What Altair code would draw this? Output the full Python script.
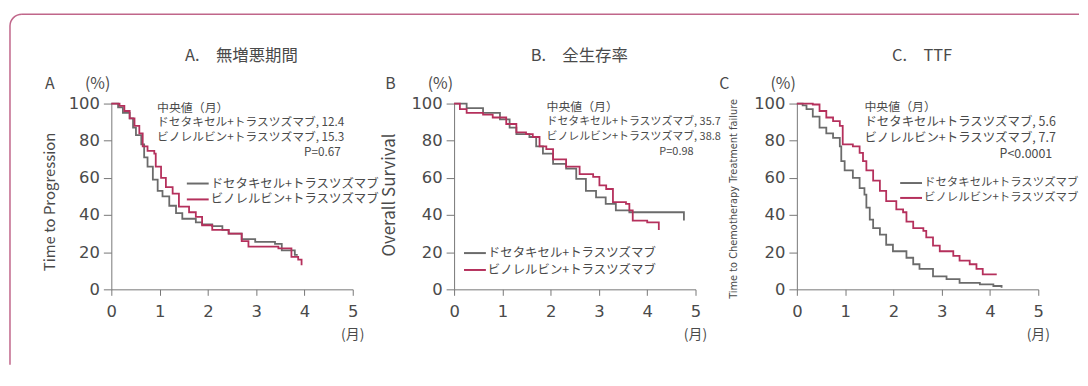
import altair as alt
import pandas as pd

# ---------------- data ----------------
SERIES = ["ドセタキセル+トラスツズマブ", "ビノレルビン+トラスツズマブ"]
COLORS = ["#6b6b6b", "#b5305c"]

X_TICKS = [0, 1, 2, 3, 4, 5]
Y_TICKS = [0, 20, 40, 60, 80, 100]

# Panel A: Time to Progression
A_doc_t = [0, 0.14, 0.24, 0.38, 0.45, 0.51, 0.62, 0.68, 0.75, 0.86, 0.96, 1.06, 1.2, 1.34, 1.47, 1.75, 1.88, 2.09, 2.3, 2.43, 2.7, 2.98, 3.39, 3.53, 3.8, 3.86]
A_doc_s = [100, 98, 95, 92, 87, 83, 78, 71, 66, 59, 53, 50, 45, 41, 38, 36, 35, 34, 32, 30, 27, 25.5, 24.5, 21, 18.5, 18.5]
A_vin_t = [0, 0.17, 0.27, 0.38, 0.48, 0.58, 0.65, 0.75, 0.89, 0.92, 1.03, 1.13, 1.27, 1.4, 1.61, 1.75, 1.88, 2.09, 2.43, 2.7, 2.84, 3.39, 3.46, 3.73, 3.87, 3.94]
A_vin_s = [100, 98.7, 96, 92, 88, 84, 77, 74.5, 73, 66, 60, 55, 51.5, 44.5, 41.5, 39, 34.5, 32, 30, 26, 23, 23, 22, 17.5, 16, 13]

# Panel B: Overall Survival
B_doc_t = [0, 0.26, 0.6, 0.95, 1.15, 1.29, 1.56, 1.7, 1.84, 2.05, 2.32, 2.53, 2.73, 2.94, 3.14, 3.35, 3.63, 4.76, 4.76]
B_doc_s = [100, 97.5, 95, 91.5, 87, 83.5, 82, 77, 73, 67.5, 65, 59.5, 53, 49.5, 46, 42.5, 41.5, 41.5, 37]
B_vin_t = [0, 0.12, 0.26, 0.6, 0.8, 1.08, 1.29, 1.49, 1.63, 1.77, 1.91, 2.05, 2.32, 2.6, 2.88, 3.01, 3.15, 3.29, 3.56, 3.63, 3.7, 4.0, 4.24, 4.24]
B_vin_s = [100, 97, 95, 94, 92.5, 89, 84.5, 83.5, 82, 77, 75.5, 70, 66, 62, 60.5, 56, 54, 47, 46, 42.5, 37, 36, 36, 32]

# Panel C: Time to Chemotherapy Treatment failure
C_doc_t = [0, 0.12, 0.2, 0.33, 0.47, 0.61, 0.75, 0.89, 0.92, 0.99, 1.16, 1.3, 1.4, 1.44, 1.51, 1.58, 1.72, 1.85, 1.99, 2.27, 2.41, 2.54, 2.82, 3.1, 3.37, 3.79, 4.07, 4.24]
C_doc_s = [100, 99, 97, 93, 87, 84, 81.5, 77, 69, 64, 60, 54.5, 51, 44, 37.5, 33, 29.5, 24, 20.5, 17, 13.5, 11, 7, 5.5, 3.5, 2.7, 1.8, 0.9]
C_vin_t = [0, 0.33, 0.47, 0.61, 0.75, 0.89, 0.95, 1.16, 1.3, 1.37, 1.44, 1.58, 1.72, 1.85, 2.06, 2.2, 2.27, 2.41, 2.62, 2.68, 2.82, 2.96, 3.24, 3.37, 3.58, 3.72, 3.85, 4.14]
C_vin_s = [100, 99.5, 96, 92.5, 90.5, 88, 78, 77, 73.5, 69, 64, 58.5, 53, 47.5, 43, 41.5, 36.5, 33, 31.5, 28, 23.5, 20.5, 18, 15.5, 13.5, 11, 8, 8]

TITLES = ["A.　無増悪期間", "B.　全生存率", "C.　TTF"]
LETTERS = ["A", "B", "C"]
Y_TITLES = ["Time to Progression", "Overall Survival", "Time to Chemotherapy Treatment failure"]
MEDIAN_HEAD = "中央値（月）"
MEDIANS = [["12.4", "15.3"], ["35.7", "38.8"], ["5.6", "7.7"]]
P_VALUES = ["P=0.67", "P=0.98", "P<0.0001"]
PCT = "(%)"
UNIT = "(月)"

# ---------------- styling ----------------
W, H = 243, 187
JP = "Noto Sans CJK JP"
TXT = "#4a4a4a"
FRAME = "#c0668a"


def km_df(t_doc, s_doc, t_vin, s_vin):
    rows = []
    for name, ts, ss in ((SERIES[0], t_doc, s_doc), (SERIES[1], t_vin, s_vin)):
        for i, (t, s) in enumerate(zip(ts, ss)):
            rows.append({"t": t, "s": s, "series": name, "i": i})
    return pd.DataFrame(rows)


def label(txt, x, y, size, align="left", angle=0, font=JP, color=TXT, style="normal"):
    return alt.Chart(alt.Data(values=[{}])).mark_text(
        text=txt, align=align, baseline="middle", fontSize=size, angle=angle,
        font=font, color=color, fontStyle=style
    ).encode(x=alt.value(x), y=alt.value(y))


def seg(x1, x2, y, color, width=2):
    return alt.Chart(alt.Data(values=[{}])).mark_rule(color=color, strokeWidth=width).encode(
        x=alt.value(x1), x2=alt.value(x2), y=alt.value(y))


def curves(df):
    x = alt.X("t:Q", scale=alt.Scale(domain=[0, 5], nice=False),
              axis=alt.Axis(values=X_TICKS, title=None, tickSize=6, labelPadding=8, labelFontSize=16.5,
                            labelFlush=False))
    y = alt.Y("s:Q", scale=alt.Scale(domain=[0, 100], nice=False),
              axis=alt.Axis(values=Y_TICKS, title=None, tickSize=8, labelPadding=4, labelFontSize=16.5))
    return alt.Chart(df).mark_line(interpolate="step-after", strokeWidth=1.8).encode(
        x=x, y=y,
        color=alt.Color("series:N", scale=alt.Scale(domain=SERIES, range=COLORS), legend=None),
        order="i:Q",
    )


def panel(k, df, title_x, letter_x, ytitle_x, ytitle_y, ytitle_size, ytitle_font,
          ann_x, ann_right, ann_size, ann_y, leg_x, leg_y, leg_size):
    layers = [curves(df)]
    layers.append(label(TITLES[k], title_x, -48, 16.5, align="center"))
    layers.append(label(LETTERS[k], letter_x, -20, 16, align="center"))
    layers.append(label(PCT, -1, -20, 16, align="right"))
    layers.append(label(Y_TITLES[k], ytitle_x, ytitle_y, ytitle_size, align="center", angle=270,
                        font=ytitle_font))
    layers.append(label(UNIT, W, 233, 14, align="center"))
    layers.append(label(MEDIAN_HEAD, ann_x, ann_y[0], 12))
    for j in range(2):
        layers.append(label(f"{SERIES[j]}, {MEDIANS[k][j]}", ann_x, ann_y[j + 1], ann_size))
    layers.append(label(P_VALUES[k], ann_right, ann_y[3], ann_size, align="right"))
    for j in range(2):
        layers.append(seg(leg_x, leg_x + 22, leg_y[j], COLORS[j]))
        layers.append(label(SERIES[j], leg_x + 24, leg_y[j], leg_size))
    return layers


A_layers = panel(0, km_df(A_doc_t, A_doc_s, A_vin_t, A_vin_s), 131, -62, -62, 99, 15, JP,
                 46, 231, 11.8, [4, 19, 34, 49], 76, [80.5, 96.5], 12.5)
# decorative frame (rounded top-left corner)
A_layers.append(seg(-90, 974, -90, FRAME, 1.5))
A_layers.append(alt.Chart(alt.Data(values=[{}])).mark_rule(color=FRAME, strokeWidth=1.5).encode(
    x=alt.value(-102), y=alt.value(-78), y2=alt.value(263)))
A_layers.append(alt.Chart(alt.Data(values=[{}])).mark_arc(
    color=FRAME, radius=12.75, radius2=11.25, theta=4.7124, theta2=6.2832).encode(
    x=alt.value(-90), y=alt.value(-78)))

B_layers = panel(1, km_df(B_doc_t, B_doc_s, B_vin_t, B_vin_s), 126, -64, -64, 92, 17, JP,
                 93, 241, 11, [3, 18.5, 34, 49], 10, [150.5, 167.5], 12.5)
C_layers = panel(2, km_df(C_doc_t, C_doc_s, C_vin_t, C_vin_s), 126, -73, -63, 96, 11,
                 "Liberation Sans Narrow, DejaVu Sans Condensed, Liberation Sans",
                 68, 257, 12.5, [3, 19, 35, 51], 104, [80, 95], 11.5)

pA = alt.layer(*A_layers).properties(width=W, height=H)
pB = alt.layer(*B_layers).properties(width=W, height=H)
pC = alt.layer(*C_layers).properties(width=W, height=H)

chart = alt.hconcat(pA, pB, pC, spacing=102, bounds="flush").properties(
    padding={"left": 1, "top": 4, "right": 0, "bottom": 2}
).configure_view(stroke=None).configure_axis(
    grid=False, domainColor="#777", tickColor="#777", labelColor=TXT, labelFont="DejaVu Sans",
    domainWidth=1, tickWidth=1,
)

chart.save("out.html", embed_options={"renderer": "svg", "actions": False})
